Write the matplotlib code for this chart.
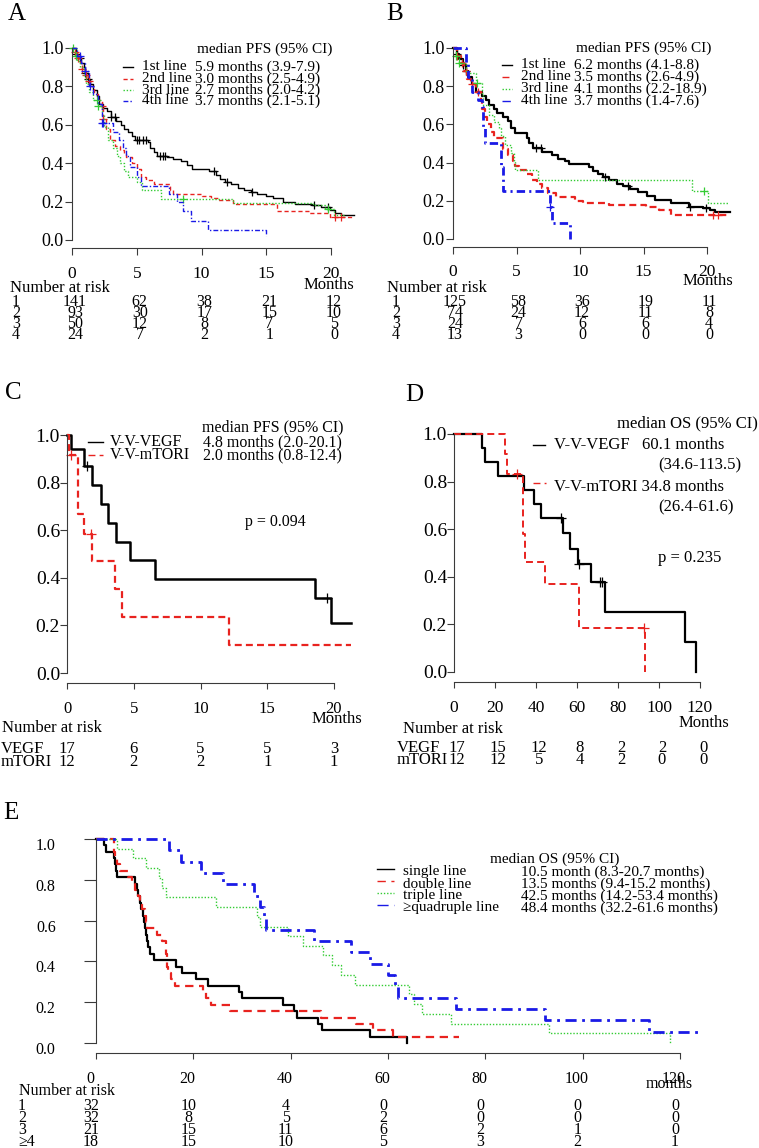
import numpy as np
import matplotlib
matplotlib.use('Agg')
import matplotlib.pyplot as plt
from matplotlib.lines import Line2D
from matplotlib.transforms import ScaledTranslation

# ---------------- DATA ----------------
# Panel A (PFS by line)
A_t1 = [0, 0.3, 0.5, 0.7, 0.9, 1.0, 1.2, 1.4, 1.6, 1.9, 2.1, 2.4, 2.7, 3.0, 3.4, 3.8, 4.0, 4.3, 4.6, 4.9, 5.9, 6.0, 6.3, 6.6, 7.3, 7.8, 8.4, 8.9, 9.3, 10.6, 11.1, 11.4, 11.8, 12.3, 12.8, 13.3, 13.8, 14.3, 15.0, 15.5, 16.3, 17.2, 18.5, 19.2, 19.9, 20.3, 20.8]
A_s1 = [1.0, 0.97, 0.95, 0.92, 0.90, 0.87, 0.84, 0.81, 0.78, 0.75, 0.71, 0.69, 0.67, 0.64, 0.62, 0.60, 0.58, 0.56, 0.54, 0.52, 0.51, 0.48, 0.46, 0.44, 0.43, 0.42, 0.41, 0.39, 0.37, 0.36, 0.34, 0.32, 0.30, 0.29, 0.27, 0.26, 0.25, 0.24, 0.23, 0.22, 0.20, 0.19, 0.18, 0.17, 0.155, 0.14, 0.13]
A_c1 = [0.3, 0.6, 1.0, 1.2, 3.0, 3.3, 5.0, 5.2, 5.5, 5.7, 6.8, 7.0, 7.2, 11.0, 12.0, 13.9, 18.7, 19.8]
A_t2 = [0, 0.2, 0.4, 0.6, 0.8, 1.0, 1.2, 1.4, 1.7, 2.0, 2.3, 2.4, 2.6, 2.9, 3.3, 3.7, 4.0, 4.2, 4.6, 5.0, 5.3, 5.7, 6.3, 7.6, 7.8, 10.0, 10.7, 11.3, 12.4, 15.8, 18.3, 19.9]
A_s2 = [1.0, 0.98, 0.95, 0.92, 0.89, 0.86, 0.83, 0.80, 0.76, 0.73, 0.70, 0.63, 0.58, 0.52, 0.49, 0.47, 0.45, 0.43, 0.40, 0.37, 0.33, 0.31, 0.29, 0.26, 0.24, 0.23, 0.22, 0.21, 0.19, 0.15, 0.14, 0.12]
A_c2 = [0.2, 0.5, 0.8, 1.1, 1.3, 2.3, 2.4, 20.3, 20.8]
A_t3 = [0, 0.2, 0.4, 0.6, 0.9, 1.1, 1.3, 1.6, 2.0, 2.3, 2.5, 2.8, 3.2, 3.5, 3.7, 4.0, 4.3, 5.0, 5.4, 6.9, 12.4, 18.6, 19.5, 20.2]
A_s3 = [1.0, 0.96, 0.93, 0.90, 0.85, 0.81, 0.77, 0.73, 0.70, 0.65, 0.59, 0.52, 0.48, 0.44, 0.40, 0.36, 0.33, 0.30, 0.26, 0.215, 0.195, 0.18, 0.16, 0.13]
A_c3 = [0.1, 0.3, 1.9, 2.0, 8.6, 19.8]
A_t4 = [0, 0.4, 0.7, 1.0, 1.3, 1.6, 2.0, 2.3, 3.2, 3.6, 3.9, 4.2, 4.5, 5.0, 5.3, 7.5, 8.1, 8.6, 9.2, 10.5, 15.0]
A_s4 = [1.0, 0.96, 0.92, 0.88, 0.80, 0.76, 0.71, 0.61, 0.56, 0.52, 0.48, 0.44, 0.38, 0.33, 0.28, 0.24, 0.20, 0.15, 0.10, 0.05, 0.02]
A_c4 = [0.6, 1.0, 1.4, 2.3, 2.4]
A_end = [21.8, 21.8, 21.0, 15.0]
A_labels = ['1st line', '2nd line', '3rd line', '4th line']
A_values = ['5.9 months (3.9-7.9)', '3.0 months (2.5-4.9)', '2.7 months (2.0-4.2)', '3.7 months (2.1-5.1)']
A_risk = [[141, 62, 38, 21, 12], [93, 30, 17, 15, 10], [50, 12, 8, 7, 5], [24, 7, 2, 1, 0]]
A_risk_labels = ['1', '2', '3', '4']

# Panel B
B_t1 = [0, 0.3, 0.5, 0.8, 1.0, 1.2, 1.5, 1.8, 2.3, 2.6, 2.8, 3.2, 3.5, 3.9, 4.3, 4.6, 4.9, 5.8, 6.0, 6.3, 7.0, 7.8, 8.3, 8.8, 9.1, 10.7, 11.0, 11.4, 11.8, 12.3, 12.9, 13.4, 13.9, 14.6, 15.3, 15.9, 17.2, 18.6, 19.7, 20.2, 20.6]
B_s1 = [1.0, 0.97, 0.94, 0.91, 0.88, 0.85, 0.81, 0.77, 0.75, 0.73, 0.70, 0.68, 0.66, 0.64, 0.62, 0.58, 0.555, 0.53, 0.50, 0.475, 0.458, 0.44, 0.42, 0.41, 0.395, 0.375, 0.355, 0.34, 0.325, 0.31, 0.29, 0.275, 0.26, 0.245, 0.225, 0.205, 0.19, 0.17, 0.16, 0.15, 0.14]
B_c1 = [0.3, 0.8, 1.0, 6.5, 6.9, 12.0, 13.8, 18.7, 19.9]
B_t2 = [0, 0.3, 0.6, 0.9, 1.1, 1.4, 1.8, 2.2, 2.3, 2.5, 2.7, 3.0, 3.2, 3.9, 4.3, 4.7, 4.9, 5.2, 5.8, 6.2, 6.6, 7.0, 7.5, 8.1, 9.6, 10.2, 12.3, 15.2, 16.2, 17.2]
B_s2 = [1.0, 0.96, 0.92, 0.88, 0.84, 0.81, 0.77, 0.72, 0.68, 0.64, 0.60, 0.56, 0.53, 0.47, 0.44, 0.41, 0.38, 0.36, 0.34, 0.31, 0.29, 0.265, 0.24, 0.22, 0.20, 0.19, 0.18, 0.165, 0.15, 0.126]
B_c2 = [0.3, 0.7, 1.0, 1.5, 2.0, 20.5, 20.9]
B_t3 = [0, 0.2, 0.5, 1.0, 1.8, 2.3, 2.4, 2.8, 3.2, 3.6, 3.8, 4.1, 4.6, 4.8, 4.9, 6.7, 18.8, 20.1]
B_s3 = [1.0, 0.96, 0.92, 0.87, 0.815, 0.76, 0.70, 0.65, 0.615, 0.58, 0.54, 0.49, 0.45, 0.41, 0.36, 0.31, 0.25, 0.19]
B_c3 = [0.2, 0.5, 1.9, 19.8]
B_t4 = [0, 1.0, 1.2, 1.5, 2.0, 2.3, 2.4, 2.5, 3.8, 3.9, 7.6, 7.8, 9.2]
B_s4 = [1.0, 0.92, 0.85, 0.77, 0.73, 0.69, 0.58, 0.50, 0.375, 0.25, 0.167, 0.083, 0.0]
B_c4 = [7.6]
B_end = [21.8, 21.8, 21.7, 9.2]
B_values = ['6.2 months (4.1-8.8)', '3.5 months (2.6-4.9)', '4.1 months (2.2-18.9)', '3.7 months (1.4-7.6)']
B_risk = [[125, 58, 36, 19, 11], [74, 24, 12, 11, 8], [24, 7, 6, 6, 4], [13, 3, 0, 0, 0]]

# Panel C (PFS, V-V-VEGF vs V-V-mTORI)
C_t1 = [0, 0.3, 1.3, 1.9, 2.55, 3.1, 3.7, 4.7, 6.6, 18.6, 19.8]
C_s1 = [1.0, 0.941, 0.871, 0.79, 0.712, 0.632, 0.552, 0.473, 0.394, 0.316, 0.211]
C_c1 = [1.5, 19.5]
C_t2 = [0, 0.15, 0.8, 1.3, 1.9, 3.6, 4.1, 12.1]
C_s2 = [1.0, 0.917, 0.667, 0.583, 0.471, 0.352, 0.236, 0.118]
C_c2 = [0.3, 1.8]
C_end = [21.3, 21.3]
C_labels = ['V-V-VEGF', 'V-V-mTORI']
C_values = ['4.8 months (2.0-20.1)', '2.0 months (0.8-12.4)']
C_risk = [[17, 6, 5, 5, 3], [12, 2, 2, 1, 1]]
CD_risk_labels = ['VEGF', 'mTORI']

# Panel D (OS)
D_t1 = [0, 13.8, 15.0, 21.5, 34.1, 38.9, 42.3, 53.2, 56.4, 60.5, 67.0, 73.5, 112.8, 118.2]
D_s1 = [1.0, 0.941, 0.882, 0.824, 0.765, 0.706, 0.647, 0.582, 0.517, 0.453, 0.377, 0.251, 0.126, 0.0]
D_c1 = [52.4, 61.0, 71.0, 72.0]
D_t2 = [0, 25.0, 26.0, 33.5, 34.5, 44.2, 61.0, 93.0]
D_s2 = [1.0, 0.917, 0.833, 0.58, 0.463, 0.37, 0.185, 0.0]
D_c2 = [30.9, 92.5]
D_end = [118.2, 93.0]
D_risk = [[17, 15, 12, 8, 2, 2, 0], [12, 12, 5, 4, 2, 0, 0]]

# Panel E (OS by number of lines)
E_t1 = [0, 1.7, 2.0, 3.7, 4.0, 4.2, 4.4, 8.0, 8.4, 8.7, 9.0, 9.3, 9.6, 9.9, 10.1, 10.3, 10.5, 10.7, 11.0, 12.0, 16.5, 17.7, 20.5, 23.0, 29.3, 30.1, 38.5, 40.7, 41.2, 45.7, 46.5, 56.3, 63.8]
E_s1 = [1.0, 0.969, 0.938, 0.906, 0.875, 0.844, 0.813, 0.781, 0.75, 0.719, 0.688, 0.656, 0.625, 0.594, 0.563, 0.531, 0.5, 0.469, 0.438, 0.406, 0.375, 0.344, 0.313, 0.281, 0.25, 0.219, 0.188, 0.156, 0.125, 0.094, 0.063, 0.031, 0.0]
E_t2 = [0, 3.6, 3.8, 4.0, 4.3, 5.0, 6.5, 7.3, 8.0, 8.6, 9.1, 9.5, 10.0, 10.3, 10.5, 12.5, 13.5, 14.3, 14.4, 14.5, 14.6, 14.8, 15.5, 16.3, 22.0, 22.7, 23.6, 27.6, 46.2, 53.5, 57.0, 61.0]
E_s2 = [1.0, 0.969, 0.938, 0.906, 0.875, 0.844, 0.813, 0.781, 0.75, 0.719, 0.688, 0.656, 0.625, 0.594, 0.563, 0.531, 0.5, 0.469, 0.438, 0.406, 0.375, 0.344, 0.313, 0.281, 0.25, 0.219, 0.188, 0.156, 0.125, 0.094, 0.063, 0.031]
E_t3 = [0, 4.4, 7.5, 10.2, 13.0, 13.5, 14.3, 24.6, 33.1, 33.6, 39.5, 42.5, 46.7, 48.5, 50.3, 53.3, 64.4, 65.4, 67.0, 72.9, 93.0, 118.0]
E_s3 = [1.0, 0.952, 0.905, 0.857, 0.810, 0.762, 0.714, 0.667, 0.619, 0.571, 0.524, 0.476, 0.429, 0.381, 0.333, 0.286, 0.238, 0.190, 0.143, 0.095, 0.048, 0.0]
E_t4 = [0, 15.0, 17.5, 21.5, 26.1, 32.4, 33.6, 34.6, 35.0, 44.7, 52.3, 56.3, 60.0, 61.5, 62.0, 74.0, 92.2, 113.7]
E_s4 = [1.0, 0.944, 0.889, 0.833, 0.778, 0.722, 0.667, 0.611, 0.556, 0.5, 0.444, 0.389, 0.333, 0.278, 0.222, 0.167, 0.111, 0.056]
E_end = [63.8, 74.5, 118.0, 124.8]
E_labels = ['single line', 'double line', 'triple line', '\u2265quadruple line']
E_values = ['10.5 month (8.3-20.7 months)', '13.5 months (9.4-15.2 months)', '42.5 months (14.2-53.4 months)', '48.4 months (32.2-61.6 months)']
E_risk = [[32, 10, 4, 0, 0, 0, 0], [32, 8, 5, 2, 0, 0, 0], [21, 15, 11, 6, 2, 1, 0], [18, 15, 10, 5, 3, 2, 1]]
E_risk_labels = ['1', '2', '3', '\u22654']

# ---------------- STYLE / LAYOUT ----------------
W, H = 759, 1148
plt.rcParams['font.family'] = ['Liberation Serif', 'DejaVu Serif']
plt.rcParams['lines.scale_dashes'] = False
fig = plt.figure(figsize=(W / 100, H / 100), dpi=100)

RED = '#e8231f'
GREEN = '#33cc33'
BLUE = '#1a1ae6'
AXC = '#3a3a3a'


def ftext(x, y, s, size=11, ha='left', va='center'):
    fig.text(x / W, 1 - y / H, s, fontsize=size, ha=ha, va=va)


def fline(x0, x1, y, style):
    fig.add_artist(Line2D([x0 / W, x1 / W], [1 - y / H, 1 - y / H], transform=fig.transFigure, **style))


def make_ax(px0, ppx, py0, ppy, xlim, ylim, xticks, xbound, ysize, xsize, ylen, ypad, xlen, xpad):
    left = px0 + xlim[0] * ppx
    right = px0 + xlim[1] * ppx
    bottom = py0 - ylim[0] * ppy
    top = py0 - ylim[1] * ppy
    ax = fig.add_axes([left / W, 1 - bottom / H, (right - left) / W, (bottom - top) / H])
    ax.set_xlim(xlim)
    ax.set_ylim(ylim)
    ax.patch.set_alpha(0)
    for sp in ['top', 'right']:
        ax.spines[sp].set_visible(False)
    for sp in ['left', 'bottom']:
        ax.spines[sp].set_color(AXC)
        ax.spines[sp].set_linewidth(0.8)
    ax.spines['left'].set_bounds(0, 1)
    ax.spines['bottom'].set_bounds(xbound[0], xbound[1])
    yt = [0, 0.2, 0.4, 0.6, 0.8, 1.0]
    ax.set_yticks(yt)
    ax.set_yticklabels(['%.1f' % v for v in yt], fontsize=ysize)
    ax.set_xticks(xticks)
    ax.set_xticklabels([str(v) for v in xticks], fontsize=xsize)
    ax.tick_params(axis='y', length=ylen, pad=ypad, color=AXC, width=0.8)
    ax.tick_params(axis='x', length=xlen, pad=xpad, color=AXC, width=0.8)
    return ax


def km(ax, t, s, end, style, cens=None, ms=6):
    x = list(t) + [end]
    y = list(s) + [s[-1]]
    ax.step(x, y, where='post', clip_on=False, **style)
    if cens:
        ta = np.array(t)
        cy = [s[max(0, np.searchsorted(ta, c, side='right') - 1)] for c in cens]
        ax.plot(cens, cy, ls='none', marker='+', ms=ms, mew=0.9, color=style['color'], clip_on=False)


def risk(px0, ppx, times, rows, labels, ys, xlab, dx, size=11):
    for r, lab, y in zip(rows, labels, ys):
        ftext(xlab, y, lab, size=size)
        for t, n in zip(times, r):
            ftext(px0 + t * ppx + dx, y, str(n), size=size, ha='center')


# ---------------- PANEL A ----------------
sA = [dict(color='black', lw=1.0, ls='-'),
      dict(color=RED, lw=1.0, dashes=(3, 2)),
      dict(color=GREEN, lw=1.0, dashes=(1, 1.3)),
      dict(color=BLUE, lw=1.0, dashes=(3.5, 1.5, 1, 1.5))]
axA = make_ax(72, 12.95, 240, 192, (0, 22.5), (-0.042, 1.02), [0, 5, 10, 15, 20], (0, 20), 13, 12.5, 5, 1, 5, 8)
for t, s, e, st, c in zip([A_t1, A_t2, A_t3, A_t4], [A_s1, A_s2, A_s3, A_s4], A_end, sA, [A_c1, A_c2, A_c3, A_c4]):
    km(axA, t, s, e, st, c, ms=6)
ftext(8, 14, 'A', size=18)
ftext(197, 49, 'median PFS (95% CI)', size=11)
for i, y in enumerate([67, 79, 90, 101]):
    fline(123, 133, y, sA[i])
    ftext(142, y, A_labels[i], size=11)
    ftext(195, y, A_values[i], size=11)
ftext(329, 285, 'Months', size=12, ha='center')
ftext(10, 288, 'Number at risk', size=12)
risk(72, 12.95, [0, 5, 10, 15, 20], A_risk, A_risk_labels, [302, 313, 324, 335], 12, 3, size=11.5)

# ---------------- PANEL B ----------------
sB = [dict(color='black', lw=1.6, ls='-'),
      dict(color=RED, lw=1.6, dashes=(5, 3)),
      dict(color=GREEN, lw=1.0, dashes=(1, 1.3)),
      dict(color=BLUE, lw=2.0, dashes=(6, 3, 1.5, 3))]
axB = make_ax(453, 12.7, 239, 191, (0, 22.5), (-0.042, 1.02), [0, 5, 10, 15, 20], (0, 20), 13, 12.5, 5, 1, 5, 7)
for t, s, e, st, c in zip([B_t1, B_t2, B_t3, B_t4], [B_s1, B_s2, B_s3, B_s4], B_end, sB, [B_c1, B_c2, B_c3, B_c4]):
    km(axB, t, s, e, st, c, ms=6)
ftext(386, 14, 'B', size=18)
ftext(576, 48, 'median PFS (95% CI)', size=11)
for i, y in enumerate([65, 77, 89, 101]):
    fline(502, 512, y, dict(sB[i], lw=1.0))
    ftext(521, y, A_labels[i], size=11)
    ftext(574, y, B_values[i], size=11)
ftext(708, 281, 'Months', size=12, ha='center')
ftext(387, 288, 'Number at risk', size=12)
risk(453, 12.7, [0, 5, 10, 15, 20], B_risk, A_risk_labels, [302, 313, 324, 335], 392, 2, size=11.5)

# ---------------- PANEL C ----------------
sC = [dict(color='black', lw=1.8, ls='-'),
      dict(color=RED, lw=1.6, dashes=(5, 3))]
axC = make_ax(67, 13.35, 673, 238, (0, 22.5), (-0.042, 1.01), [0, 5, 10, 15, 20], (0, 20), 14, 12, 5, 0, 4, 9)
for t, s, e, st, c in zip([C_t1, C_t2], [C_s1, C_s2], C_end, sC, [C_c1, C_c2]):
    km(axC, t, s, e, st, c, ms=7)
ftext(5, 393, 'C', size=18)
ftext(202, 427, 'median PFS (95% CI)', size=11.5)
for i, y in enumerate([442, 455]):
    fline(88, 103, y, dict(sC[i], lw=1.0))
    ftext(110, y, C_labels[i], size=11.5)
    ftext(203, y, C_values[i], size=11.5)
ftext(245, 522, 'p = 0.094', size=11.5)
ftext(337, 719, 'Months', size=12, ha='center')
ftext(2, 728, 'Number at risk', size=12)
risk(67, 13.35, [0, 5, 10, 15, 20], C_risk, CD_risk_labels, [749, 762], 1, 0, size=12)

# ---------------- PANEL D ----------------
sD = [dict(color='black', lw=1.6, ls='-'),
      dict(color=RED, lw=1.4, dashes=(5, 3))]
axD = make_ax(454, 2.05, 672, 238, (0, 122), (-0.042, 1.01), [0, 20, 40, 60, 80, 100, 120], (0, 120), 14, 12.5, 5, 0, 4, 9)
for t, s, e, st, c in zip([D_t1, D_t2], [D_s1, D_s2], D_end, sD, [D_c1, D_c2]):
    km(axD, t, s, e, st, c, ms=7)
ftext(405, 395, 'D', size=18)
ftext(758, 423, 'median OS (95% CI)', size=12, ha='right')
fline(533, 545, 445, dict(sD[0], lw=1.0))
ftext(554, 445, 'V-V-VEGF   60.1 months', size=12)
ftext(741, 465, '(34.6-113.5)', size=12, ha='right')
fline(533, 546, 483, dict(sD[1], lw=1.0))
ftext(554, 487, 'V-V-mTORI 34.8 months', size=12)
ftext(734, 507, '(26.4-61.6)', size=12, ha='right')
ftext(658, 558, 'p = 0.235', size=12)
ftext(704, 723, 'Months', size=12, ha='center')
ftext(403, 729, 'Number at risk', size=12)
risk(454, 2.05, [0, 20, 40, 60, 80, 100, 120], D_risk, CD_risk_labels, [748, 760], 397, 3, size=12)

# ---------------- PANEL E ----------------
sE = [dict(color='black', lw=1.6, ls='-'),
      dict(color=RED, lw=1.6, dashes=(6, 4)),
      dict(color=GREEN, lw=1.0, dashes=(1, 1.3)),
      dict(color=BLUE, lw=2.0, dashes=(8, 4, 2, 4))]
axE = make_ax(96, 4.867, 1043, 204, (0, 128), (-0.049, 1.01), [0, 20, 40, 60, 80, 100, 120], (0, 120), 11.5, 11.5, 9, 20, 4, 9)
for lab in axE.get_yticklabels():
    lab.set_transform(lab.get_transform() + ScaledTranslation(0, -5 / 100, fig.dpi_scale_trans))
for lab in axE.get_xticklabels():
    lab.set_transform(lab.get_transform() + ScaledTranslation(-6 / 100, 0, fig.dpi_scale_trans))
for t, s, e, st in zip([E_t1, E_t2, E_t3, E_t4], [E_s1, E_s2, E_s3, E_s4], E_end, sE):
    km(axE, t, s, e, st)
ftext(3, 813, 'E', size=18)
ftext(490, 859, 'median OS (95% CI)', size=11)
for i, y in enumerate([872, 884, 896, 908]):
    fline(377, 394, y - 3, dict(sE[i], lw=1.0))
    ftext(403, y, E_labels[i], size=11)
    ftext(521, y, E_values[i], size=11)
ftext(669, 1084, 'months', size=11.5, ha='center')
ftext(19, 1091, 'Number at risk', size=11.5)
risk(96, 4.867, [0, 20, 40, 60, 80, 100, 120], E_risk, E_risk_labels, [1106, 1118, 1130, 1142], 18, -5, size=11.5)

fig.savefig('out.png', dpi=100)
